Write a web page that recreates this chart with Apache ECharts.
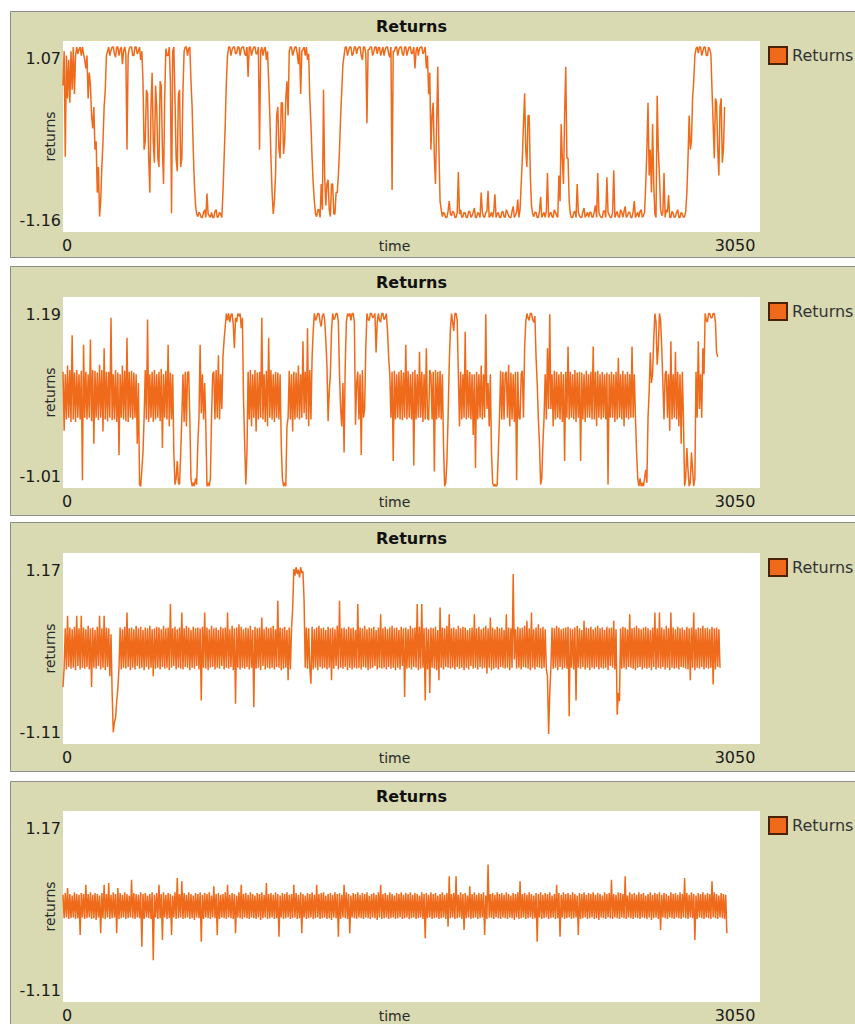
<!DOCTYPE html>
<html><head><meta charset="utf-8">
<script src="https://cdn.jsdelivr.net/npm/echarts@6/dist/echarts.min.js"></script>
<style>html,body{margin:0;padding:0;background:#fff;}#c{width:855px;height:1024px;}</style>
</head><body><div id="c"></div>
<script>
// ---- data ----
const TIME_STEP = 5;             // ticks between plotted samples
const xTicks = [0, 3050];
const yTicks1 = [-1.16, 1.07];
const yTicks2 = [-1.01, 1.19];
const yTicks3 = [-1.11, 1.17];
const yTicks4 = [-1.11, 1.17];
const titleText = 'Returns';
const legendName = 'Returns';
const xName = 'time';
const yName = 'returns';

const returns1 = [
0.55,0.95,-0.28,0.9,0.4,0.85,0.35,0.95,0.5,1.0,0.45,0.9,1.0,0.92,0.97,1.0,0.9,1.0,0.92,0.85,
0.75,0.9,0.4,0.7,0.55,0.2,0.05,0.3,-0.2,-0.1,-0.7,-0.4,-0.98,-0.8,-0.4,-0.1,0.3,0.5,0.9,0.95,
1.0,0.9,0.96,1.0,1.0,0.92,0.88,1.0,1.0,0.9,0.97,1.0,0.8,0.95,1.0,0.92,-0.2,0.9,0.98,1.0,
1.0,0.9,0.9,1.0,1.0,0.92,0.95,1.0,0.85,0.95,0.6,-0.2,-0.1,0.5,0.45,-0.3,-0.7,0.3,0.7,-0.1,
-0.35,0.55,0.3,-0.3,-0.4,0.6,0.55,-0.2,-0.6,0.4,0.98,0.9,0.9,1.0,0.6,-0.94,0.95,1.0,0.4,-0.3,
-0.45,0.45,0.5,-0.4,-0.3,0.5,0.95,1.0,1.0,0.9,0.98,1.0,0.6,0.3,-0.2,-0.6,-0.85,-0.95,-0.98,-0.93,
-0.95,-0.99,-0.99,-0.93,-0.9,-0.99,-0.71,-0.95,-0.97,-0.99,-0.93,-0.99,-0.99,-0.92,-0.9,-0.99,-0.98,-0.93,-0.95,-0.99,
-0.7,-0.3,0.1,0.6,0.9,1.0,1.0,0.9,0.97,1.0,1.0,0.92,0.93,1.0,1.0,0.9,0.98,1.0,1.0,0.92,
0.9,1.0,0.65,1.0,1.0,0.9,0.96,1.0,1.0,0.92,0.92,1.0,-0.2,0.95,1.0,0.9,0.97,1.0,0.85,0.95,
0.6,0.2,-0.3,-0.7,-0.95,-0.8,-0.5,0.2,0.3,-0.2,-0.3,0.35,0.35,-0.25,-0.1,0.4,0.6,0.2,0.95,1.0,
1.0,0.9,0.95,1.0,1.0,0.92,0.8,1.0,0.45,0.95,0.97,1.0,0.9,1.0,0.85,0.92,0.4,0.1,-0.3,-0.6,
-0.8,-0.95,-0.98,-0.9,-0.9,-0.99,-0.6,-0.9,0.5,-0.5,-0.85,-0.6,-0.55,-0.9,-0.98,-0.6,-0.6,-0.95,-0.95,-0.7,
-0.7,-0.5,-0.2,0.2,0.5,0.8,0.9,1.0,1.0,0.9,0.96,1.0,1.0,0.9,0.92,1.0,1.0,0.92,0.98,1.0,
1.0,0.9,0.85,1.0,1.0,0.92,0.11,0.97,0.97,1.0,1.0,0.9,0.94,1.0,1.0,0.92,0.99,1.0,0.9,0.95,
1.0,0.9,0.97,1.0,1.0,0.92,0.88,1.0,-0.67,0.95,0.95,1.0,1.0,0.9,0.97,1.0,1.0,0.92,0.9,1.0,
1.0,0.9,0.96,1.0,1.0,0.92,0.93,1.0,0.75,0.95,1.0,0.9,0.98,1.0,1.0,0.92,0.95,1.0,0.75,0.9,
0.45,0.7,-0.2,0.2,0.35,-0.3,-0.6,0.1,0.77,-0.2,-0.8,-0.9,-0.98,-0.93,-0.95,-0.99,-0.99,-0.92,-0.8,-0.95,
-0.97,-0.92,-0.93,-0.99,-0.99,-0.93,-0.46,-0.95,-0.9,-0.99,-0.98,-0.93,-0.94,-0.99,-0.99,-0.92,-0.92,-0.99,-0.97,-0.93,
-0.88,-0.99,-0.99,-0.93,-0.95,-0.99,-0.7,-0.93,-0.98,-0.99,-0.93,-0.92,-0.68,-0.99,-0.97,-0.93,-0.99,-0.92,-0.72,-0.99,
-0.95,-0.93,-0.99,-0.99,-0.93,-0.92,-0.98,-0.99,-0.9,-0.93,-0.97,-0.99,-0.99,-0.92,-0.86,-0.99,-0.96,-0.93,-0.78,-0.99,
-0.9,-0.6,-0.3,0.1,0.46,-0.2,-0.4,0.2,0.2,-0.5,-0.85,-0.95,-0.98,-0.93,-0.93,-0.99,-0.99,-0.92,-0.75,-0.99,
-0.96,-0.93,-0.99,-0.92,-0.47,-0.99,-0.95,-0.93,-0.98,-0.99,-0.9,-0.93,-0.97,-0.99,-0.5,-0.8,0.1,-0.3,-0.6,0.2,
0.77,-0.3,-0.3,-0.8,-0.95,-0.99,-0.99,-0.93,-0.92,-0.99,-0.6,-0.93,-0.97,-0.99,-0.99,-0.92,-0.88,-0.99,-0.96,-0.93,
-0.99,-0.93,-0.93,-0.99,-0.98,-0.92,-0.85,-0.99,-0.47,-0.93,-0.97,-0.99,-0.99,-0.92,-0.91,-0.99,-0.52,-0.93,-0.96,-0.99,
-0.99,-0.93,-0.44,-0.99,-0.95,-0.92,-0.98,-0.99,-0.9,-0.93,-0.99,-0.92,-0.86,-0.99,-0.97,-0.93,-0.93,-0.99,-0.99,-0.92,
-0.8,-0.99,-0.96,-0.93,-0.99,-0.92,-0.9,-0.99,-0.97,-0.93,-0.6,-0.2,0.35,-0.5,-0.2,-0.7,0.1,-0.6,-0.95,-0.99,
0.43,-0.2,-0.5,-0.9,-0.97,-0.93,-0.47,-0.99,-0.9,-0.93,-0.73,-0.99,-0.99,-0.92,-0.94,-0.99,-0.98,-0.93,-0.9,-0.99,
-0.99,-0.93,-0.95,-0.99,-0.98,-0.92,-0.7,-0.3,0.2,-0.2,-0.1,0.4,0.6,0.9,0.98,1.0,0.93,1.0,1.0,0.9,
0.95,1.0,1.0,0.9,0.9,1.0,0.97,0.92,0.5,0.1,-0.3,0.4,0.35,-0.2,-0.5,0.3,0.4,-0.35,-0.2,0.3
];

const returns2 = [
0.33,-0.35,0.3,-0.22,0.4,-0.2,0.35,-0.25,0.75,-0.22,0.32,-0.25,0.35,-0.2,0.3,-0.22,0.34,-0.92,0.64,-0.2,
0.33,-0.22,0.3,-0.2,0.7,-0.24,0.35,-0.5,0.34,-0.2,0.32,-0.23,0.41,-0.2,0.35,-0.36,0.6,-0.22,0.33,-0.24,
0.33,-0.2,0.95,-0.23,0.3,-0.22,0.35,-0.25,0.32,-0.63,0.3,-0.2,0.4,-0.22,0.34,-0.24,0.72,-0.25,0.33,-0.2,
0.34,-0.22,0.32,-0.2,0.3,-0.5,0.2,-0.97,-0.99,-0.8,-0.6,-0.2,0.35,-0.22,0.93,-0.25,0.3,-0.2,0.33,-0.25,
0.35,-0.22,0.3,-0.2,0.33,-0.24,0.36,-0.55,0.3,-0.2,0.34,-0.22,0.64,-0.3,0.32,-0.22,0.3,-0.6,-0.97,-0.9,
-0.7,-0.95,-0.97,-0.6,-0.2,0.3,-0.25,0.33,-0.3,0.32,0.33,-0.22,-0.9,-0.99,-0.95,-0.99,-0.9,-0.97,-0.5,-0.2,
0.64,-0.15,0.3,-0.22,0.2,-0.3,-0.99,-0.95,-0.99,-0.9,-0.2,0.3,0.33,-0.22,0.35,-0.2,0.52,-0.22,0.3,-0.1,
0.5,0.7,0.85,1.0,0.92,1.0,0.9,0.98,1.0,0.88,0.6,0.95,0.9,1.0,0.97,1.0,0.83,0.95,0.0,-0.5,
-0.97,-0.6,0.33,-0.22,0.35,-0.3,0.3,-0.2,0.35,-0.36,0.32,-0.22,0.33,-0.2,0.95,-0.22,0.3,-0.25,0.34,-0.3,
0.72,-0.2,0.35,-0.22,0.3,-0.25,0.33,-0.2,0.32,-0.22,0.3,-0.5,-0.9,-0.99,-0.95,-0.99,-0.3,-0.2,0.34,-0.22,
0.3,-0.36,0.33,-0.22,0.32,-0.2,0.4,-0.22,0.3,-0.2,0.68,-0.15,0.33,-0.22,0.83,-0.3,0.35,-0.22,0.5,0.8,
1.0,0.92,0.95,1.0,1.0,0.9,0.85,0.97,1.0,0.93,0.7,0.4,-0.24,0.1,0.3,0.8,1.0,0.93,0.95,1.0,
1.0,0.9,0.3,-0.1,-0.3,0.2,-0.6,0.4,0.9,1.0,0.97,1.0,0.92,1.0,1.0,0.9,-0.28,0.2,0.33,-0.22,
0.3,-0.63,0.35,-0.2,-0.1,0.6,1.0,0.93,0.92,1.0,1.0,0.95,0.97,1.0,0.55,0.9,1.0,0.92,0.9,1.0,
1.0,0.93,0.95,1.0,0.8,0.5,0.3,-0.2,0.33,-0.7,0.34,-0.22,0.3,-0.2,0.33,-0.22,0.35,-0.23,0.32,-0.2,
0.64,-0.22,0.34,-0.2,0.3,-0.22,0.33,-0.75,0.35,-0.22,0.3,-0.2,0.56,-0.2,0.33,-0.25,0.3,-0.22,0.6,-0.2,
-0.23,0.35,0.3,-0.22,0.33,-0.82,0.35,-0.22,0.33,-0.2,0.34,-0.22,0.3,-0.5,-0.99,-0.95,-0.7,-0.2,0.4,0.8,
1.0,0.9,0.8,1.0,1.0,0.92,0.3,-0.3,0.33,-0.22,0.3,-0.2,0.79,-0.22,0.35,-0.2,0.33,-0.22,0.3,-0.4,
0.3,-0.78,0.33,-0.22,0.3,-0.2,0.4,-0.22,0.3,-0.2,0.99,-0.1,0.2,-0.3,0.3,-0.6,-0.95,-0.99,-0.97,-0.99,
-0.97,-0.6,-0.2,0.34,-0.22,0.33,-0.22,0.3,0.33,-0.2,0.41,-0.3,0.32,-0.22,0.3,-0.25,0.33,-0.92,0.33,-0.2,
-0.22,0.3,0.34,-0.2,0.6,0.9,1.0,0.95,0.92,1.0,1.0,0.93,0.9,0.97,0.5,0.2,-0.2,-0.5,-0.97,-0.9,
-0.5,-0.2,0.3,-0.22,0.6,-0.1,0.99,-0.1,0.3,-0.3,0.34,-0.22,0.33,-0.2,0.3,-0.22,0.33,-0.25,0.3,-0.7,
0.33,-0.2,0.62,-0.22,0.33,-0.2,0.3,-0.22,0.35,-0.25,0.32,-0.2,0.33,-0.7,0.32,-0.22,0.3,-0.25,0.34,-0.2,
0.3,-0.2,0.33,-0.22,0.62,-0.22,0.33,-0.3,0.34,-0.2,0.3,-0.22,0.33,-0.2,0.3,-0.22,0.32,-0.97,0.3,-0.2,
0.33,-0.2,0.3,-0.25,0.33,-0.22,0.49,-0.2,0.3,-0.22,0.34,-0.3,0.3,-0.2,0.33,-0.22,0.3,-0.2,0.62,-0.2,
0.3,-0.2,-0.6,-0.9,-0.99,-0.9,-0.99,-0.95,-0.99,-0.9,-0.8,-0.95,-0.2,0.1,0.55,0.2,0.3,0.7,1.0,0.9,
0.41,0.6,1.0,0.92,0.6,0.2,-0.22,0.3,0.34,-0.2,0.3,-0.35,0.68,-0.22,0.3,-0.2,0.56,-0.22,0.33,-0.3,
0.3,-0.5,0.33,-0.2,-0.99,-0.9,-0.55,-0.8,-0.99,-0.95,-0.6,-0.8,-0.99,-0.9,0.33,-0.2,0.68,-0.1,0.3,-0.2,
0.6,0.3,1.0,0.92,0.9,1.0,1.0,0.95,0.95,1.0,1.0,0.9,0.55,0.5
];

const returns3 = [
-0.43,-0.2,0.27,-0.22,0.42,-0.19,0.28,-0.21,0.26,-0.2,0.29,-0.23,0.42,-0.18,0.27,-0.22,0.42,-0.2,0.28,-0.21,
0.26,-0.19,0.3,-0.22,0.27,-0.43,0.28,-0.2,0.25,-0.21,0.29,-0.18,0.42,-0.22,0.27,-0.2,0.42,-0.23,0.28,-0.19,
0.27,-0.3,0.2,-0.5,-0.97,-0.85,-0.8,-0.6,-0.45,-0.2,0.28,-0.22,0.26,-0.2,0.29,-0.21,0.46,-0.19,0.27,-0.23,
0.28,-0.2,0.26,-0.22,0.3,-0.18,0.27,-0.21,0.29,-0.2,0.25,-0.23,0.28,-0.19,0.27,-0.22,0.3,-0.2,0.26,-0.3,
0.27,-0.21,0.29,-0.2,0.28,-0.22,0.26,-0.19,0.3,-0.21,0.27,-0.2,0.28,-0.23,0.56,-0.2,0.27,-0.18,0.29,-0.22,
0.26,-0.2,0.28,-0.21,0.46,-0.22,0.27,-0.19,0.3,-0.2,0.28,-0.23,0.25,-0.2,0.29,-0.21,0.27,-0.18,0.28,-0.22,
0.27,-0.59,0.29,-0.2,0.46,-0.21,0.28,-0.23,0.26,-0.2,0.3,-0.19,0.27,-0.22,0.28,-0.2,0.25,-0.21,0.29,-0.18,
0.27,-0.22,0.28,-0.2,0.46,-0.21,0.26,-0.19,0.3,-0.23,0.27,-0.63,0.28,-0.2,0.32,-0.22,0.29,-0.2,0.26,-0.21,
0.28,-0.19,0.27,-0.22,0.3,-0.2,0.25,-0.67,0.29,-0.21,0.27,-0.2,0.28,-0.23,0.4,-0.18,0.26,-0.22,0.29,-0.2,
0.27,-0.21,0.28,-0.2,0.3,-0.22,0.26,-0.19,0.6,-0.2,0.28,-0.23,0.27,-0.21,0.29,-0.2,0.25,-0.35,0.28,-0.22,
0.27,0.5,0.98,0.9,1.0,0.92,0.97,0.88,1.0,0.93,0.95,0.6,-0.2,0.28,-0.21,0.27,-0.2,-0.39,0.29,-0.22,
0.26,-0.2,0.28,-0.23,0.3,-0.19,0.27,-0.21,0.28,-0.2,0.25,-0.22,0.29,-0.2,0.27,-0.35,0.28,-0.21,0.26,-0.18,
0.3,-0.22,0.6,-0.2,0.27,-0.21,0.28,-0.19,0.26,-0.23,0.29,-0.2,0.27,-0.22,0.28,-0.2,0.25,-0.21,0.56,-0.2,
0.28,-0.22,0.27,-0.19,0.3,-0.2,0.26,-0.23,0.28,-0.21,0.27,-0.2,0.29,-0.18,0.25,-0.22,0.28,-0.2,0.44,-0.21,
0.27,-0.2,0.29,-0.22,0.26,-0.19,0.28,-0.21,0.3,-0.2,0.27,-0.23,0.28,-0.2,0.25,-0.22,0.29,-0.18,0.27,-0.55,
0.28,-0.21,0.26,-0.2,0.3,-0.22,0.27,-0.19,0.28,-0.2,0.56,-0.23,0.29,-0.21,0.56,-0.2,0.27,-0.59,0.28,-0.22,
0.26,-0.5,0.28,-0.2,0.27,-0.21,0.29,-0.23,0.25,-0.35,0.52,-0.2,0.28,-0.22,0.27,-0.19,0.3,-0.2,0.44,-0.21,
0.27,-0.2,0.28,-0.22,0.26,-0.19,0.3,-0.21,0.27,-0.2,0.29,-0.23,0.28,-0.2,0.25,-0.22,0.27,-0.18,0.28,-0.21,
0.44,-0.2,0.27,-0.22,0.29,-0.19,0.26,-0.21,0.28,-0.2,0.3,-0.27,0.27,-0.2,0.4,-0.23,0.28,-0.21,0.26,-0.2,
0.29,-0.22,0.27,-0.19,0.28,-0.2,0.25,-0.21,0.44,-0.2,0.28,-0.23,0.27,-0.2,0.92,-0.1,0.26,-0.21,0.29,-0.2,
0.27,-0.22,0.28,-0.19,0.3,-0.2,0.36,-0.21,0.27,-0.23,0.46,-0.2,0.26,-0.22,0.28,-0.19,0.32,-0.2,0.27,-0.21,
0.29,-0.2,0.26,-0.22,-0.3,-0.99,-0.5,-0.2,0.28,-0.21,0.27,-0.2,0.3,-0.23,0.28,-0.19,0.26,-0.22,0.27,-0.2,
0.28,-0.21,0.29,-0.78,0.27,-0.2,0.26,-0.22,0.28,-0.59,0.3,-0.2,0.27,-0.21,0.25,-0.19,0.36,-0.22,0.28,-0.2,
0.27,-0.23,0.29,-0.2,0.26,-0.21,0.28,-0.19,0.3,-0.22,0.27,-0.2,0.28,-0.21,0.25,-0.2,0.29,-0.23,0.27,-0.18,
0.28,-0.2,0.36,-0.22,0.26,-0.76,-0.5,-0.6,0.27,-0.21,0.29,-0.2,0.28,-0.22,0.26,-0.19,0.44,-0.2,0.27,-0.21,
0.28,-0.23,0.3,-0.2,0.27,-0.19,0.26,-0.22,0.28,-0.2,0.29,-0.21,0.27,-0.2,0.25,-0.23,0.28,-0.19,0.46,-0.22,
0.27,-0.2,0.46,-0.21,0.28,-0.19,0.26,-0.22,0.3,-0.2,0.27,-0.23,0.46,-0.2,0.28,-0.21,0.26,-0.2,0.29,-0.22,
0.27,-0.19,0.28,-0.2,0.25,-0.21,0.29,-0.22,0.27,-0.35,0.28,-0.2,0.46,-0.23,0.26,-0.2,0.28,-0.21,0.27,-0.19,
0.3,-0.22,0.27,-0.2,0.28,-0.21,0.26,-0.2,0.29,-0.4,0.27,-0.22,0.28,-0.19,0.26,-0.2
];

const returns4 = [
0.17,-0.11,0.19,-0.1,0.25,-0.12,0.18,-0.11,0.16,-0.1,0.2,-0.12,0.18,-0.11,0.17,-0.31,0.19,-0.1,0.18,-0.12,
0.29,-0.11,0.18,-0.1,0.2,-0.12,0.17,-0.11,0.19,-0.13,0.18,-0.1,0.16,-0.29,0.19,-0.11,0.29,-0.12,0.18,-0.1,
0.31,-0.12,0.17,-0.11,0.2,-0.1,0.18,-0.29,0.25,-0.12,0.19,-0.11,0.17,-0.1,0.2,-0.12,0.18,-0.11,0.16,-0.1,
0.35,-0.11,0.19,-0.12,0.18,-0.1,0.17,-0.11,0.2,-0.45,0.18,-0.12,0.19,-0.1,0.16,-0.11,0.18,-0.12,0.2,-0.61,
0.17,-0.1,0.19,-0.12,0.29,-0.11,0.18,-0.37,0.2,-0.1,0.17,-0.12,0.19,-0.11,0.18,-0.31,0.16,-0.1,0.2,-0.12,
0.37,-0.11,0.18,-0.1,0.33,-0.12,0.19,-0.11,0.17,-0.1,0.2,-0.12,0.18,-0.11,0.16,-0.13,0.19,-0.1,0.18,-0.11,
0.2,-0.39,0.17,-0.12,0.19,-0.1,0.18,-0.11,0.2,-0.12,0.16,-0.1,0.27,-0.11,0.18,-0.31,0.19,-0.12,0.17,-0.1,
0.18,-0.11,0.2,-0.12,0.29,-0.1,0.17,-0.11,0.19,-0.12,0.18,-0.29,0.16,-0.1,0.2,-0.11,0.29,-0.12,0.18,-0.1,
0.19,-0.11,0.17,-0.12,0.2,-0.1,0.18,-0.11,0.16,-0.12,0.19,-0.1,0.18,-0.13,0.2,-0.11,0.17,-0.1,0.31,-0.12,
0.18,-0.11,0.19,-0.1,0.17,-0.12,0.2,-0.11,0.18,-0.33,0.16,-0.1,0.19,-0.12,0.18,-0.11,0.2,-0.1,0.17,-0.12,
0.18,-0.11,0.29,-0.1,0.19,-0.12,0.17,-0.11,0.2,-0.29,0.18,-0.1,0.16,-0.12,0.19,-0.11,0.18,-0.1,0.2,-0.12,
0.17,-0.11,0.29,-0.1,0.18,-0.12,0.19,-0.11,0.2,-0.1,0.16,-0.12,0.18,-0.11,0.19,-0.13,0.17,-0.1,0.2,-0.11,
0.18,-0.33,0.19,-0.12,0.17,-0.1,0.29,-0.11,0.2,-0.12,0.18,-0.29,0.16,-0.1,0.19,-0.11,0.18,-0.12,0.2,-0.1,
0.17,-0.11,0.19,-0.12,0.18,-0.1,0.2,-0.11,0.16,-0.12,0.18,-0.1,0.19,-0.11,0.17,-0.13,0.2,-0.1,0.29,-0.12,
0.18,-0.11,0.19,-0.1,0.17,-0.12,0.2,-0.11,0.18,-0.1,0.16,-0.12,0.19,-0.11,0.18,-0.1,0.2,-0.12,0.17,-0.11,
0.19,-0.1,0.18,-0.12,0.2,-0.11,0.17,-0.1,0.19,-0.12,0.18,-0.11,0.16,-0.1,0.2,-0.12,0.18,-0.35,0.19,-0.11,
0.17,-0.1,0.2,-0.12,0.18,-0.11,0.19,-0.1,0.16,-0.12,0.18,-0.11,0.2,-0.1,0.17,-0.12,0.19,-0.21,0.39,-0.11,
0.18,-0.1,0.19,-0.12,0.39,-0.11,0.17,-0.1,0.2,-0.12,0.18,-0.25,0.19,-0.11,0.16,-0.1,0.27,-0.12,0.18,-0.11,
0.2,-0.1,0.17,-0.12,0.19,-0.11,0.18,-0.1,0.2,-0.31,0.16,-0.12,0.53,-0.1,0.18,-0.11,0.19,-0.12,0.17,-0.1,
0.2,-0.11,0.18,-0.12,0.19,-0.1,0.17,-0.11,0.2,-0.12,0.18,-0.1,0.16,-0.11,0.19,-0.13,0.18,-0.1,0.2,-0.12,
0.33,-0.11,0.18,-0.1,0.19,-0.12,0.17,-0.11,0.2,-0.1,0.18,-0.12,0.16,-0.11,0.19,-0.39,0.18,-0.1,0.2,-0.12,
0.17,-0.11,0.19,-0.1,0.18,-0.12,0.2,-0.11,0.16,-0.1,0.18,-0.12,0.29,-0.11,0.19,-0.33,0.17,-0.1,0.2,-0.12,
0.18,-0.11,0.19,-0.1,0.17,-0.12,0.2,-0.11,0.18,-0.1,0.16,-0.31,0.19,-0.12,0.18,-0.11,0.2,-0.1,0.17,-0.12,
0.19,-0.11,0.18,-0.1,0.2,-0.12,0.17,-0.11,0.19,-0.13,0.18,-0.1,0.16,-0.11,0.2,-0.12,0.18,-0.1,0.19,-0.11,
0.35,-0.12,0.18,-0.1,0.17,-0.11,0.2,-0.12,0.19,-0.1,0.18,-0.11,0.39,-0.12,0.16,-0.1,0.2,-0.11,0.18,-0.12,
0.19,-0.1,0.17,-0.11,0.2,-0.12,0.18,-0.1,0.19,-0.11,0.16,-0.12,0.18,-0.1,0.2,-0.13,0.17,-0.11,0.19,-0.1,
0.18,-0.12,0.2,-0.25,0.17,-0.1,0.19,-0.11,0.18,-0.12,0.16,-0.1,0.2,-0.11,0.18,-0.12,0.19,-0.1,0.17,-0.11,
0.2,-0.12,0.18,-0.1,0.37,-0.11,0.19,-0.12,0.17,-0.1,0.2,-0.11,0.18,-0.37,0.16,-0.12,0.19,-0.1,0.18,-0.11,
0.2,-0.12,0.17,-0.1,0.19,-0.11,0.18,-0.12,0.33,-0.1,0.2,-0.11,0.18,-0.12,0.16,-0.1,0.19,-0.11,0.18,-0.12,
0.17,-0.29
];

// ---- layout & style ----
const FONT = '"DejaVu Sans", Verdana, sans-serif';
const ORANGE = '#ef6a1a';
const PANEL_BG = '#d9d9b2';
const layout = [
  { panelTop: 11,  panelH: 246, gridTop: 41 },
  { panelTop: 266, panelH: 249, gridTop: 297 },
  { panelTop: 522, panelH: 249, gridTop: 553 },
  { panelTop: 781, panelH: 260, gridTop: 811 }
];
const allData = [returns1, returns2, returns3, returns4];
const allTicks = [yTicks1, yTicks2, yTicks3, yTicks4];
const GRID_LEFT = 63, GRID_W = 697, GRID_H = 191;

const labelTxt = { fontFamily: FONT, fontSize: 16, color: '#1a1a1a' };

const option = {
  animation: false,
  backgroundColor: '#ffffff',
  graphic: layout.map(l => ({
    type: 'rect', z: -100, silent: true,
    shape: { x: 10.5, y: l.panelTop + 0.5, width: 880, height: l.panelH },
    style: { fill: PANEL_BG, stroke: '#8c8c8c', lineWidth: 1 }
  })),
  title: layout.map(l => ({
    text: titleText, left: GRID_LEFT + GRID_W / 2, top: l.gridTop - 23,
    textAlign: 'center', padding: 0,
    textStyle: { fontFamily: FONT, fontSize: 16, fontWeight: 'bold', color: '#111' }
  })),
  legend: layout.map(l => ({
    left: 768, top: l.gridTop + 5, padding: 0, data: [legendName],
    icon: 'rect', itemWidth: 18, itemHeight: 17, selectedMode: false,
    itemStyle: { color: ORANGE, borderColor: '#4a2208', borderWidth: 2 },
    textStyle: { fontFamily: FONT, fontSize: 16, color: '#333' }
  })),
  grid: layout.map(l => ({
    left: GRID_LEFT, top: l.gridTop, width: GRID_W, height: GRID_H,
    show: true, backgroundColor: '#ffffff', borderWidth: 0,
    containLabel: false, outerBoundsMode: 'none'
  })),
  xAxis: layout.map((l, k) => ({
    type: 'value', gridIndex: k, min: xTicks[0], max: xTicks[1],
    axisLine: { show: false }, axisTick: { show: false }, splitLine: { show: false },
    axisLabel: {
      customValues: xTicks, margin: 5,
      formatter: v => (v === xTicks[0] ? '{l|' : '{r|') + v + '}',
      rich: {
        l: Object.assign({ padding: [0, 0, 0, 8] }, labelTxt),
        r: Object.assign({ padding: [0, 50, 0, 0] }, labelTxt)
      }
    },
    name: xName, nameLocation: 'middle', nameGap: 7, nameMoveOverlap: false,
    nameTextStyle: { fontFamily: FONT, fontSize: 14, color: '#2a2a2a', padding: [0, 34, 0, 0] }
  })),
  yAxis: layout.map((l, k) => {
    const t = allTicks[k];
    return {
      type: 'value', gridIndex: k, min: t[0], max: t[1],
      axisLine: { show: false }, axisTick: { show: false }, splitLine: { show: false },
      axisLabel: {
        customValues: t, margin: 2,
        formatter: v => (v === t[1] ? '{t|' : '{b|') + v.toFixed(2) + '}',
        rich: {
          t: Object.assign({ padding: [34, 0, 0, 0] }, labelTxt),
          b: Object.assign({ padding: [0, 0, 24, 0] }, labelTxt)
        }
      },
      name: yName, nameLocation: 'middle', nameGap: 6, nameMoveOverlap: false,
      nameTextStyle: { fontFamily: FONT, fontSize: 14, color: '#2a2a2a' }
    };
  }),
  series: allData.map((d, k) => ({
    type: 'line', name: legendName, xAxisIndex: k, yAxisIndex: k,
    data: d.map((v, i) => [i * TIME_STEP, v]),
    showSymbol: false, symbol: 'none', silent: true,
    lineStyle: { color: ORANGE, width: 1.5, join: 'bevel' },
    itemStyle: { color: ORANGE }
  }))
};

const chart = echarts.init(document.getElementById('c'), null, { renderer: 'svg' });
chart.setOption(option);
</script>
</body></html>
